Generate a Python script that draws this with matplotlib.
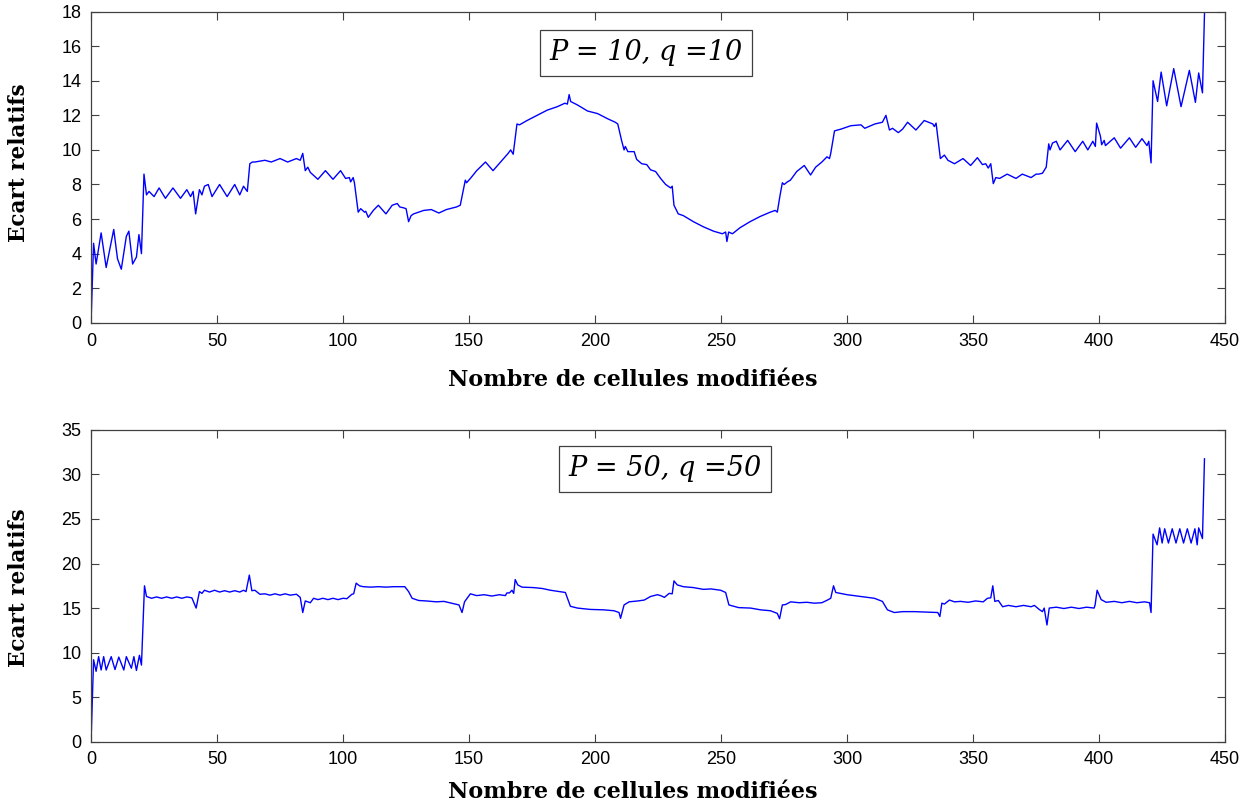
import matplotlib
matplotlib.use("Agg")
import matplotlib.pyplot as plt

# P = 10, q = 10
x_p10 = [0, 1, 2, 4, 6, 9, 10.5, 12, 14, 15, 16.5, 18, 19, 20, 21, 22, 23, 25, 27, 29.5,
         32.5, 35.5, 38, 39.5, 40.5, 41.5, 43, 44, 45, 46.5, 48, 51, 54, 57, 59, 60.5, 62, 63, 64, 65,
         69, 71.5, 75, 78, 81.5, 83, 84, 85, 86, 87, 90, 93, 96, 99, 101, 102.5, 103, 104, 104.5, 106,
         107, 108.5, 109, 110, 112, 114, 117, 119.5, 121.5, 122.5, 124, 125, 126, 127, 128, 132, 135, 138, 141, 145,
         146.5, 148.5, 149, 150.5, 153, 156.5, 159.5, 162.5, 165.5, 166.5, 167.5, 169, 170, 173, 177, 181, 185, 188, 189, 189.7,
         190.3, 193, 197, 201, 205, 208, 209, 210.5, 211.5, 212, 213, 215.5, 216.5, 218.5, 220.5, 222, 224, 226, 228, 230,
         230.6, 231.3, 233, 235, 239, 243, 247, 250.5, 251.8, 252.3, 253, 254.5, 257.5, 261.5, 265.5, 269.5, 271.5, 272.3, 273.3, 274.3,
         275, 276.3, 277.5, 280, 283, 285.5, 287.5, 290, 292, 293, 293.5, 295, 297.5, 301.5, 305.5, 307, 311, 314, 315.4, 316.8,
         318, 320.3, 322, 324, 327.3, 330.6, 334, 334.6, 335.3, 337, 338.6, 340, 342.6, 346, 349, 351.7, 353.7, 355, 356, 357,
         358, 359, 360.5, 363.5, 367, 369.5, 373, 375, 376, 377.5, 379, 380, 380.5, 381.5, 383, 384.5, 387.5, 390.5, 393.5, 395.5,
         397.5, 398.5, 399, 400.5, 401, 402, 402.5, 406, 408.5, 412, 414.5, 417, 419, 419.7, 420.6, 421.4, 423.2, 424.6, 426.8, 429.6,
         432.5, 435.8, 438.2, 439.5, 441, 442]
y_p10 = [0.0, 4.6, 3.4, 5.2, 3.2, 5.4, 3.7, 3.1, 5.0, 5.3, 3.4, 3.8, 5.1, 4.0, 8.6, 7.4, 7.6, 7.3, 7.8, 7.2,
         7.8, 7.2, 7.7, 7.3, 7.6, 6.3, 7.7, 7.4, 7.9, 8.0, 7.3, 8.0, 7.3, 8.0, 7.4, 7.9, 7.6, 9.2, 9.3, 9.3,
         9.4, 9.3, 9.5, 9.3, 9.5, 9.4, 9.8, 8.8, 9.0, 8.7, 8.3, 8.8, 8.3, 8.8, 8.35, 8.4, 8.15, 8.4, 8.1, 6.4,
         6.6, 6.4, 6.45, 6.1, 6.5, 6.8, 6.3, 6.8, 6.9, 6.7, 6.65, 6.6, 5.85, 6.2, 6.3, 6.5, 6.55, 6.35, 6.55, 6.7,
         6.8, 8.25, 8.1, 8.35, 8.8, 9.3, 8.8, 9.3, 9.8, 10.0, 9.75, 11.5, 11.45, 11.7, 12.0, 12.3, 12.5, 12.7, 12.65, 13.2,
         12.8, 12.6, 12.25, 12.1, 11.8, 11.6, 11.5, 10.55, 10.0, 10.2, 9.9, 9.9, 9.45, 9.2, 9.15, 8.85, 8.75, 8.35, 8.0, 7.8,
         7.9, 6.8, 6.3, 6.2, 5.85, 5.55, 5.3, 5.15, 5.25, 4.7, 5.25, 5.15, 5.5, 5.85, 6.15, 6.4, 6.5, 6.4, 7.3, 8.1,
         8.0, 8.15, 8.25, 8.75, 9.1, 8.55, 9.0, 9.3, 9.6, 9.5, 9.8, 11.1, 11.2, 11.4, 11.45, 11.25, 11.5, 11.6, 12.0, 11.15,
         11.25, 11.0, 11.2, 11.6, 11.15, 11.7, 11.5, 11.35, 11.55, 9.5, 9.7, 9.4, 9.2, 9.5, 9.1, 9.55, 9.15, 9.2, 8.95, 9.2,
         8.05, 8.4, 8.35, 8.6, 8.35, 8.6, 8.4, 8.6, 8.6, 8.65, 9.0, 10.35, 10.0, 10.4, 10.5, 10.0, 10.55, 9.9, 10.5, 10.0,
         10.5, 10.2, 11.55, 10.8, 10.3, 10.55, 10.25, 10.7, 10.1, 10.7, 10.15, 10.65, 10.25, 10.5, 9.25, 14.0, 12.8, 14.5, 12.55, 14.7,
         12.5, 14.6, 12.75, 14.45, 13.3, 19.0]

# P = 50, q = 50
x_p50 = [0, 1, 2, 3, 4, 5, 6, 8, 9.5, 11, 13, 14, 16, 17, 18, 19.2, 20, 21.2, 22, 24,
         26, 28, 30, 32, 34, 36, 38, 40, 41.7, 43, 44, 45, 47, 49, 51, 53, 55, 57, 59, 60.5,
         61.5, 62.8, 63.8, 65, 67, 69, 71, 73, 75, 77, 79, 81.5, 83, 84, 85, 87, 88.3, 90, 92, 94,
         96, 98, 100, 101.5, 103.5, 104.2, 105.2, 106.5, 108, 111, 114, 117, 120, 124.5, 126, 127.4, 130, 133, 137, 140,
         143, 146, 147.2, 148.2, 149.2, 150.5, 153, 156, 159, 162, 164.4, 165, 166, 167, 167.7, 168.3, 169.3, 171, 175.5, 179,
         182.3, 186, 188.2, 190.2, 193, 198, 203.5, 207.5, 209.5, 210.1, 211.5, 213.5, 217, 219.5, 222, 224.7, 226, 227.5, 229.4, 230.6,
         231.3, 232.6, 235, 239, 243, 246, 249.8, 251.8, 253.1, 257, 261.7, 265.7, 269.6, 272.3, 273.2, 274.3, 275.6, 277.6, 281, 284,
         287, 290, 292.2, 293.5, 294.6, 295.5, 300, 305.5, 310.8, 314, 316, 318.7, 322, 326.7, 331, 336, 336.8, 337.6, 338.6, 340.6,
         342.6, 345, 348, 351, 354, 355.7, 357, 357.8, 358.6, 360, 361.7, 364, 367, 370, 373, 374.3, 376.2, 377.5, 378.2, 379.3,
         380.2, 383, 386, 389, 392, 395, 398, 398.4, 399.2, 400.8, 402.8, 406, 409, 412, 415, 418, 420, 420.6, 421.4, 423,
         424, 425, 426, 427.5, 429, 430.5, 432, 433.5, 435, 436.5, 438, 438.9, 439.5, 441, 441.8]
y_p50 = [0.0, 9.2, 7.9, 9.55, 8.05, 9.55, 8.05, 9.55, 8.1, 9.5, 8.05, 9.55, 8.25, 9.55, 8.0, 9.7, 8.6, 17.5, 16.3, 16.1,
         16.25, 16.1, 16.25, 16.1, 16.25, 16.1, 16.25, 16.15, 15.0, 16.85, 16.65, 17.0, 16.8, 17.0, 16.8, 16.95, 16.8, 16.95, 16.8, 17.0,
         16.85, 18.7, 16.95, 17.0, 16.55, 16.6, 16.45, 16.6, 16.45, 16.6, 16.45, 16.55, 16.2, 14.5, 15.8, 15.6, 16.1, 15.95, 16.1, 15.95,
         16.1, 15.95, 16.1, 16.05, 16.55, 16.6, 17.8, 17.5, 17.4, 17.35, 17.4, 17.35, 17.4, 17.4, 16.85, 16.1, 15.85, 15.8, 15.7, 15.75,
         15.55, 15.35, 14.5, 15.7, 16.1, 16.6, 16.4, 16.5, 16.35, 16.5, 16.4, 16.7, 16.7, 17.0, 16.65, 18.2, 17.6, 17.35, 17.3, 17.2,
         17.0, 16.85, 16.75, 15.2, 15.0, 14.85, 14.8, 14.7, 14.5, 13.85, 15.35, 15.7, 15.8, 15.9, 16.3, 16.5, 16.4, 16.2, 16.65, 16.6,
         18.05, 17.6, 17.4, 17.3, 17.1, 17.15, 17.0, 16.75, 15.35, 15.05, 15.0, 14.8, 14.7, 14.4, 13.8, 15.35, 15.4, 15.7, 15.6, 15.65,
         15.55, 15.6, 15.9, 16.1, 17.5, 16.75, 16.5, 16.3, 16.1, 15.75, 14.8, 14.5, 14.6, 14.6, 14.55, 14.5, 14.05, 15.55, 15.45, 15.9,
         15.7, 15.75, 15.65, 15.8, 15.7, 16.1, 16.15, 17.5, 15.75, 15.85, 15.15, 15.3, 15.15, 15.3, 15.15, 15.3, 14.85, 14.6, 15.0, 13.1,
         15.0, 15.1, 14.95, 15.1, 14.95, 15.1, 15.0, 15.35, 17.0, 15.95, 15.65, 15.75, 15.6, 15.75, 15.6, 15.7, 15.6, 14.5, 23.3, 22.1,
         24.0, 22.3, 23.9, 22.3, 23.9, 22.3, 23.9, 22.3, 23.9, 22.3, 23.9, 22.1, 24.0, 22.8, 31.75]

panels = [
    (x_p10, y_p10, 18, list(range(0, 19, 2)), "P = 10, q =10", (0.489, 0.867)),
    (x_p50, y_p50, 35, list(range(0, 36, 5)), "P = 50, q =50", (0.506, 0.875)),
]
x_ticks = list(range(0, 451, 50))

fig = plt.figure(figsize=(12.49, 8.05), dpi=100)
rects = [[0.0729, 0.599, 0.908, 0.3866], [0.0729, 0.0786, 0.908, 0.3874]]
label_y = [-0.184, -0.161]
ylabel_y = [0.515, 0.493]

for i, (xs, ys, ymax, yticks, title, box_pos) in enumerate(panels):
    ax = fig.add_axes(rects[i])
    ax.plot(xs, ys, color="#0000ff", linewidth=1.0)
    ax.set_xlim(0, 450)
    ax.set_ylim(0, ymax)
    ax.set_xticks(x_ticks)
    ax.set_yticks(yticks)
    ax.tick_params(direction="in", length=6, width=0.8, color="#404040",
                   top=True, right=True, labelsize=13, pad=7)
    for lab in ax.get_xticklabels() + ax.get_yticklabels():
        lab.set_family("Liberation Sans")
    for s in ax.spines.values():
        s.set_color("#404040")
        s.set_linewidth(0.9)
    ax.set_xlabel("Nombre de cellules modifiées", family="DejaVu Serif",
                  fontweight="bold", fontsize=16, va="center")
    ax.xaxis.set_label_coords(0.478, label_y[i])
    ax.set_ylabel("Ecart relatifs", family="DejaVu Serif",
                  fontweight="bold", fontsize=15.5, va="center")
    ax.yaxis.set_label_coords(-0.0635, ylabel_y[i])
    ax.text(box_pos[0], box_pos[1], title, transform=ax.transAxes,
            ha="center", va="center", family="DejaVu Serif", style="italic",
            fontsize=19.5,
            bbox=dict(boxstyle="square,pad=0.35", facecolor="white",
                      edgecolor="#404040", linewidth=0.9))

fig.savefig("out.png", dpi=100, facecolor="white")
